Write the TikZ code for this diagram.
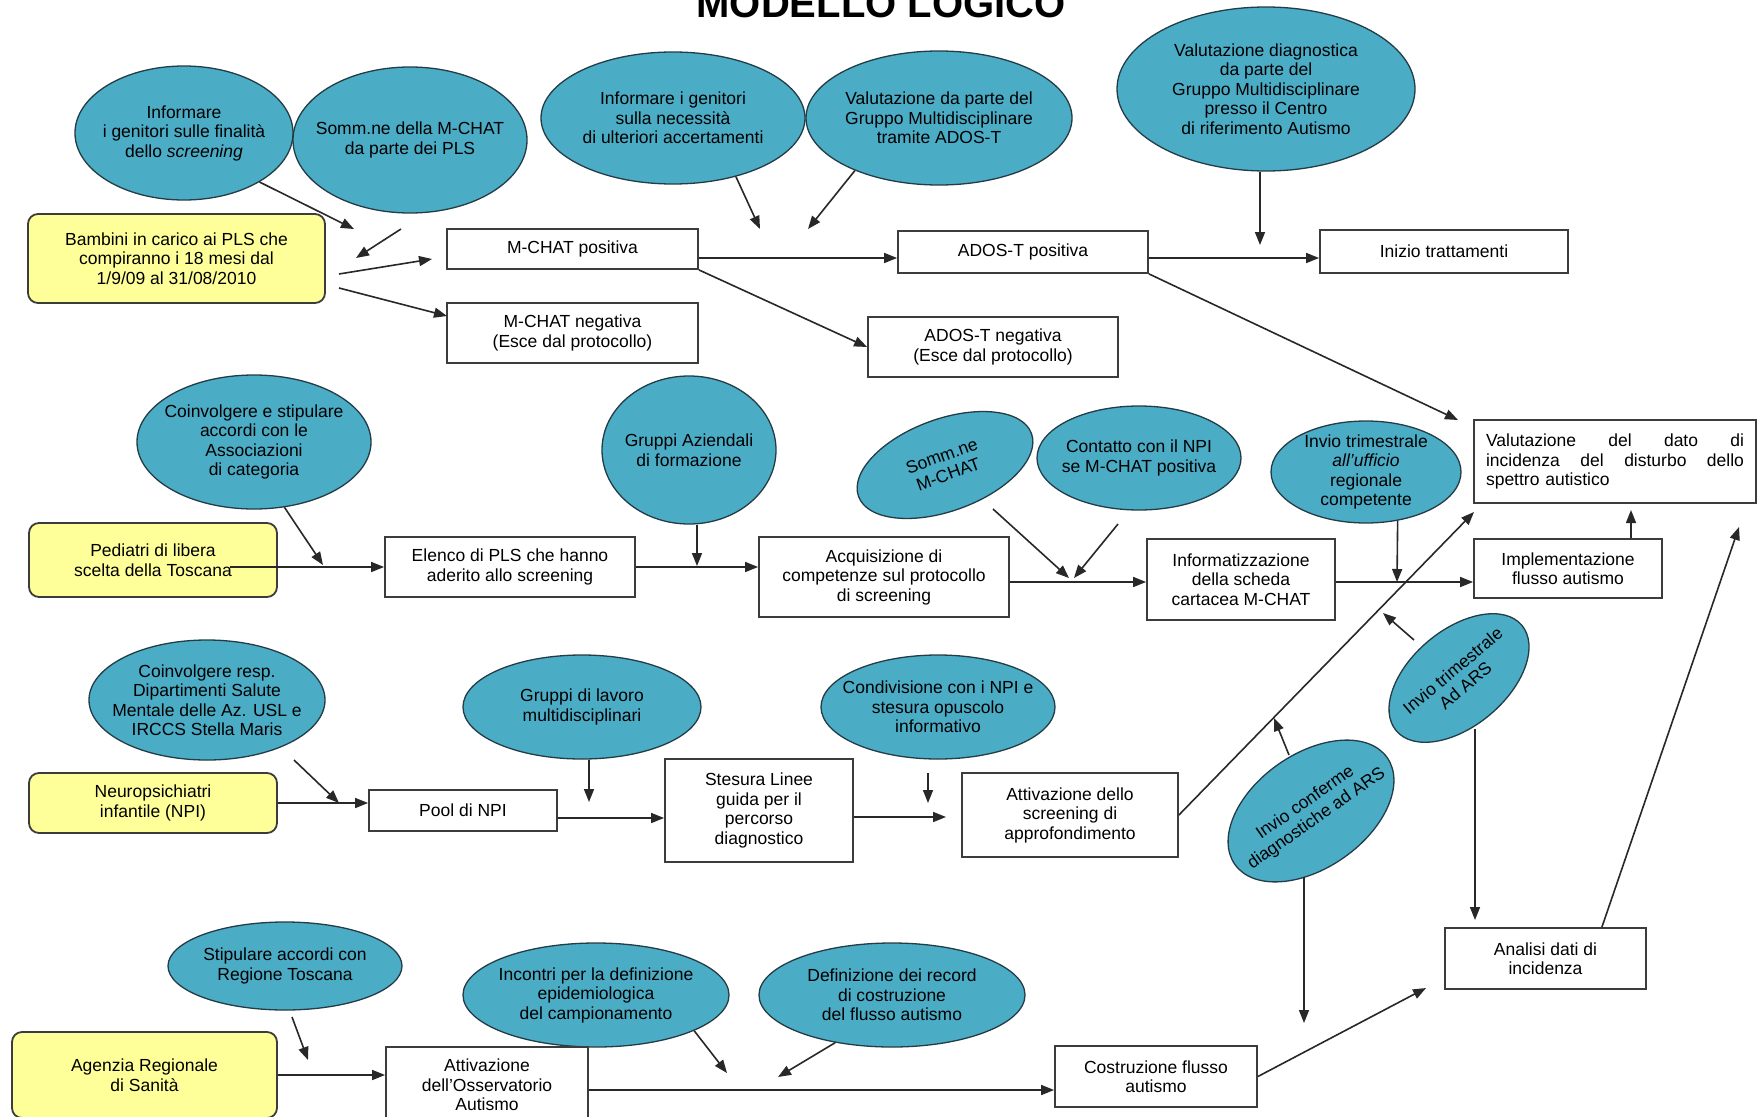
\documentclass[tikz,border=0pt]{standalone}
\usepackage{fontspec}
\setmainfont{Liberation Sans}
\usetikzlibrary{arrows.meta,shapes.geometric,calc}
\definecolor{ellfill}{RGB}{75,172,198}
\definecolor{ellln}{RGB}{35,60,70}
\definecolor{yel}{RGB}{255,255,153}
\definecolor{boxln}{RGB}{60,60,60}
\definecolor{arrln}{RGB}{40,40,40}
\begin{document}
\begin{tikzpicture}[x=1pt,y=-1pt,
  every node/.style={font=\fontsize{17.5}{19.5}\selectfont},
  box/.style={draw=boxln, line width=1.8pt, fill=white, rectangle, align=center, inner sep=2pt},
  ybox/.style={box, fill=yel, rounded corners=10pt},
  ell/.style={ellipse, draw=ellln, line width=1.3pt, fill=ellfill, inner sep=0pt},
  lbl/.style={align=center, inner sep=0pt},
  arr/.style={draw=arrln, line width=1.6pt, -{Triangle[length=13pt,width=10pt]}}
]
\fill[white] (0,0) rectangle (1758,1116);
\useasboundingbox (0,0) rectangle (1758,1116);

% title
\node[font=\bfseries\fontsize{40}{40}\selectfont, anchor=base, inner sep=0pt] (title) at (881,18) {MODELLO LOGICO};

% ---------- row 1 ----------
\node[ell, minimum width=218pt, minimum height=134pt,
  label={[lbl]center:{Informare\\i genitori sulle finalità\\dello \textit{screening}}}] (e_inf) at (184,133) {};
\node[ell, minimum width=234pt, minimum height=146pt,
  label={[lbl]center:{Somm.ne della M-CHAT\\da parte dei PLS}}] (e_somm) at (410,140) {};
\node[ell, minimum width=264pt, minimum height=132pt,
  label={[lbl]center:{Informare i genitori\\sulla necessità\\di ulteriori accertamenti}}] (e_infnec) at (673,118) {};
\node[ell, minimum width=266pt, minimum height=134pt,
  label={[lbl]center:{Valutazione da parte del\\Gruppo Multidisciplinare\\tramite ADOS-T}}] (e_valgm) at (939,118) {};
\node[ell, minimum width=298pt, minimum height=164pt,
  label={[lbl]center:{Valutazione diagnostica\\da parte del\\Gruppo Multidisciplinare\\presso il Centro\\di riferimento Autismo}}] (e_valdiag) at (1266,89) {};

\node[ybox, minimum width=297pt, minimum height=89pt] (y_bamb) at (176.5,258.5)
  {Bambini in carico ai PLS che\\compiranno i 18 mesi dal\\1/9/09 al 31/08/2010};
\node[box, minimum width=251pt, minimum height=40pt] (b_mpos) at (572.5,249) {M-CHAT positiva};
\node[box, minimum width=251pt, minimum height=60pt] (b_mneg) at (572.5,333) {M-CHAT negativa\\(Esce dal protocollo)};
\node[box, minimum width=250pt, minimum height=42pt] (b_adpos) at (1023,252) {ADOS-T positiva};
\node[box, minimum width=250pt, minimum height=60pt] (b_adneg) at (993,347) {ADOS-T negativa\\(Esce dal protocollo)};
\node[box, minimum width=248pt, minimum height=43pt] (b_inizio) at (1444,251.5) {Inizio trattamenti};
\node[box, minimum width=282pt, minimum height=83pt, text width=258pt, align=left, inner xsep=11pt] (b_valdato) at (1615,461.5)
  {\leavevmode\hbox to 258pt{Valutazione\hfill del\hfill dato\hfill di}\\\leavevmode\hbox to 258pt{incidenza\hfill del\hfill disturbo\hfill dello}\\spettro autistico};

% ---------- row 2 ----------
\node[ell, minimum width=234pt, minimum height=134pt,
  label={[lbl]center:{Coinvolgere e stipulare\\accordi con le\\Associazioni\\di categoria}}] (e_coinv) at (254,442) {};
\node[ell, minimum width=174pt, minimum height=148pt,
  label={[lbl]center:{Gruppi Aziendali\\di formazione}}] (e_gaz) at (689,450) {};
\node[ell, rotate=20, minimum width=184pt, minimum height=92pt,
  label={[lbl,rotate=20]center:{Somm.ne\\M-CHAT}}] (e_sommc) at (945,465) {};
\node[ell, minimum width=204pt, minimum height=104pt,
  label={[lbl]center:{Contatto con il NPI\\se M-CHAT positiva}}] (e_cont) at (1139,458) {};
\node[ell, minimum width=190pt, minimum height=102pt,
  label={[lbl]center:{Invio trimestrale\\\textit{all'ufficio}\\regionale\\competente}}] (e_invtrim) at (1366,472) {};

\node[ybox, minimum width=248pt, minimum height=74pt] (y_ped) at (153,560) {Pediatri di libera\\scelta della Toscana};
\node[box, minimum width=250pt, minimum height=60pt] (b_elenco) at (510,567) {Elenco di PLS che hanno\\aderito allo screening};
\node[box, minimum width=250pt, minimum height=80pt] (b_acq) at (884,577) {Acquisizione di\\competenze sul protocollo\\di screening};
\node[box, minimum width=188pt, minimum height=81pt] (b_infor) at (1241,579.5) {Informatizzazione\\della scheda\\cartacea M-CHAT};
\node[box, minimum width=188pt, minimum height=59pt] (b_impl) at (1568,568.5) {Implementazione\\flusso autismo};

% ---------- row 3 ----------
\node[ell, minimum width=236pt, minimum height=120pt,
  label={[lbl]center:{Coinvolgere resp.\\Dipartimenti Salute\\Mentale delle Az. USL e\\IRCCS Stella Maris}}] (e_coresp) at (207,700) {};
\node[ell, minimum width=238pt, minimum height=104pt,
  label={[lbl]center:{Gruppi di lavoro\\multidisciplinari}}] (e_glav) at (582,707) {};
\node[ell, minimum width=234pt, minimum height=104pt,
  label={[lbl]center:{Condivisione con i NPI e\\stesura opuscolo\\informativo}}] (e_cond) at (938,707) {};
\node[ell, rotate=35, minimum width=186pt, minimum height=114pt,
  label={[lbl,rotate=35]center:{Invio conferme\\diagnostiche ad ARS}}] (e_invconf) at (1311,811) {};
\node[ell, rotate=40, minimum width=164pt, minimum height=96pt,
  label={[lbl,rotate=40]center:{Invio trimestrale\\Ad ARS}}] (e_adars) at (1459,678) {};

\node[ybox, minimum width=248pt, minimum height=60pt] (y_neuro) at (153,803) {Neuropsichiatri\\infantile (NPI)};
\node[box, minimum width=188pt, minimum height=41pt] (b_pool) at (463,810.5) {Pool di NPI};
\node[box, minimum width=188pt, minimum height=103pt] (b_stes) at (759,810.5) {Stesura Linee\\guida per il\\percorso\\diagnostico};
\node[box, minimum width=216pt, minimum height=84pt] (b_attscr) at (1070,815) {Attivazione dello\\screening di\\approfondimento};
\node[box, minimum width=201pt, minimum height=61pt] (b_analisi) at (1545.5,958.5) {Analisi dati di\\incidenza};

% ---------- row 4 ----------
\node[ell, minimum width=234pt, minimum height=88pt,
  label={[lbl]center:{Stipulare accordi con\\Regione Toscana}}] (e_stip) at (285,966) {};
\node[ell, minimum width=266pt, minimum height=104pt,
  label={[lbl]center:{Incontri per la definizione\\epidemiologica\\del campionamento}}] (e_inc) at (596,995) {};
\node[ell, minimum width=266pt, minimum height=104pt,
  label={[lbl]center:{Definizione dei record\\di costruzione\\del flusso autismo}}] (e_def) at (892,995) {};

\node[ybox, minimum width=265pt, minimum height=86pt] (y_agen) at (144.5,1075) {Agenzia Regionale\\di Sanità};
\node[box, minimum width=202pt, minimum height=76pt] (b_oss) at (487,1085) {Attivazione\\dell'Osservatorio\\Autismo};
\node[box, minimum width=202pt, minimum height=61pt] (b_costr) at (1156,1076.5) {Costruzione flusso\\autismo};

% ---------- coordinates (free ends) ----------
\coordinate (c1) at (354,229);
\coordinate (c2s) at (401,229); \coordinate (c2) at (356,258);
\coordinate (c3s) at (339,274); \coordinate (c3) at (432,259);
\coordinate (c4s) at (339,288); \coordinate (c4) at (447,316);
\coordinate (c5) at (760,229);
\coordinate (c6) at (808,229);
\coordinate (c7) at (0,258);
\coordinate (c9) at (1260,245);
\coordinate (c11) at (1458,420);
\coordinate (c12) at (323,565);
\coordinate (c13s) at (230,567);
\coordinate (c14) at (697,566);
\coordinate (c15s) at (993,509); \coordinate (c15) at (1069,578);
\coordinate (c16s) at (1118,524); \coordinate (c16) at (1074,578);
\coordinate (c17) at (0,582);
\coordinate (c18) at (1397,582);
\coordinate (c19) at (1631,510);
\coordinate (c20s) at (294,760); \coordinate (c20) at (339,803);
\coordinate (c21) at (589,802);
\coordinate (c22) at (0,818);
\coordinate (c23s) at (928,773); \coordinate (c23) at (928,803);
\coordinate (c24) at (946,817);
\coordinate (c25) at (1474,512);
\coordinate (c26s) at (1289,755); \coordinate (c26) at (1274,718);
\coordinate (c27s) at (1304,877); \coordinate (c27) at (1304,1023);
\coordinate (c28s) at (1414,640); \coordinate (c28) at (1383,613);
\coordinate (c29s) at (1475,729); \coordinate (c29) at (1475,920);
\coordinate (c30) at (1739,527);
\coordinate (c31s) at (292,1017); \coordinate (c31) at (308,1060);
\coordinate (c32) at (727,1073);
\coordinate (c33) at (778,1077);
\coordinate (c34) at (0,1090);
\coordinate (c35) at (1426,988);

% ---------- connectors row 1 ----------
\draw[arr] (e_inf.-33) -- (c1);
\draw[arr] (c2s) -- (c2);
\draw[arr] (c3s) -- (c3);
\draw[arr] (c4s) -- (c4);
\draw[arr] (e_infnec.-43) -- (c5);
\draw[arr] (e_valgm.-148) -- (c6);
\draw[arr] (b_mpos.east |- c7) -- (b_adpos.west |- c7);
\draw[arr] (b_mpos.south east) -- (b_adneg.west);
\draw[arr] (c9 |- e_valdiag.south) -- (c9);
\draw[arr] (b_adpos.east |- c7) -- (b_inizio.west |- c7);
\draw[arr] (b_adpos.south east) -- (c11);

% ---------- connectors row 2 ----------
\draw[arr] (e_coinv.-65) -- (c12);
\draw[arr] (c13s) -- (b_elenco.west |- c13s);
\draw[arr] (c14 |- e_gaz.south) -- (c14);
\draw[arr] (b_elenco.east) -- (b_elenco.east -| b_acq.west);
\draw[arr] (c15s) -- (c15);
\draw[arr] (c16s) -- (c16);
\draw[arr] (b_acq.east |- c17) -- (b_infor.west |- c17);
\draw[arr] (e_invtrim.-57) -- (c18);
\draw[arr] (b_infor.east |- c17) -- (b_impl.west |- c17);
\draw[arr] (c19 |- b_impl.north) -- (c19);

% ---------- connectors row 3 ----------
\draw[arr] (c20s) -- (c20);
\draw[arr] (y_neuro.east) -- (y_neuro.east -| b_pool.west);
\draw[arr] (c21 |- e_glav.south) -- (c21);
\draw[arr] (b_pool.east |- c22) -- (b_stes.west |- c22);
\draw[arr] (c23s) -- (c23);
\draw[arr] (b_stes.east |- c24) -- (c24);
\draw[arr] (b_attscr.east) -- (c25);
\draw[arr] (c26s) -- (c26);
\draw[arr] (c27s) -- (c27);
\draw[arr] (c28s) -- (c28);
\draw[arr] (c29s) -- (c29);
\draw[arr] ($(b_analisi.north east)+(-45,0)$) -- (c30);

% ---------- connectors row 4 ----------
\draw[arr] (c31s) -- (c31);
\draw[arr] (y_agen.east) -- (y_agen.east -| b_oss.west);
\draw[arr] (e_inc.-20) -- (c32);
\draw[arr] (e_def.-140) -- (c33);
\draw[arr] (b_oss.east |- c34) -- (b_costr.west |- c34);
\draw[arr] (b_costr.east) -- (c35);
\end{tikzpicture}
\end{document}
